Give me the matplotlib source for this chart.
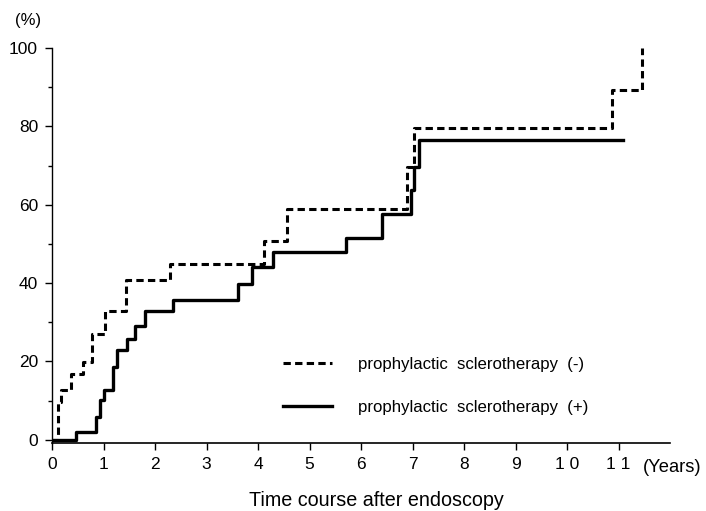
import matplotlib
matplotlib.use("Agg")
import matplotlib.pyplot as plt
from matplotlib.ticker import MultipleLocator

plt.rcParams['font.family'] = ['Liberation Sans', 'DejaVu Sans']

# Data (years, cumulative %)
neg_time = [0, 0.12, 0.18, 0.36, 0.61, 0.77, 1.02, 1.44, 2.29, 4.12, 4.57, 6.89, 7.03, 10.87, 11.46]
neg_value = [0, 9.7, 12.8, 16.8, 19.8, 27.0, 33.0, 40.8, 44.8, 50.8, 58.9, 69.7, 79.6, 89.3, 100.0]

pos_time = [0, 0.47, 0.85, 0.93, 1.01, 1.19, 1.26, 1.45, 1.61, 1.81, 2.35, 3.62, 3.89, 4.29,
            5.71, 6.40, 6.98, 7.03, 7.13, 11.08]
pos_value = [0, 1.9, 5.9, 10.2, 12.8, 18.7, 23.0, 25.8, 29.0, 32.9, 35.8, 39.8, 44.0, 47.9,
             51.4, 57.7, 63.8, 69.7, 76.5, 76.5]

labels = ["prophylactic  sclerotherapy  (-)", "prophylactic  sclerotherapy  (+)"]
x_ticks = list(range(12))
x_tick_labels = ["0", "1", "2", "3", "4", "5", "6", "7", "8", "9", "1 0", "1 1"]
y_ticks = [0, 20, 40, 60, 80, 100]

W, H = 706, 511
fig = plt.figure(figsize=(W / 100, H / 100), dpi=100)
left, right, top, bottom = 52, 670, 48, 443
ax = fig.add_axes([left / W, 1 - bottom / H, (right - left) / W, (bottom - top) / H])

ax.step(neg_time, neg_value, where='post', color='black', lw=2.2,
        linestyle=(0, (2.4, 1.4)), label=labels[0])
ax.step(pos_time, pos_value, where='post', color='black', lw=2.4,
        linestyle='-', label=labels[1])

ax.set_xlim(0, 12)
ax.set_ylim(-0.8, 100)
ax.spines['top'].set_visible(False)
ax.spines['right'].set_visible(False)
ax.spines['left'].set_linewidth(1.0)
ax.spines['bottom'].set_linewidth(1.2)

ax.set_xticks(x_ticks)
ax.set_xticklabels(x_tick_labels)
ax.set_yticks(y_ticks)
ax.yaxis.set_minor_locator(MultipleLocator(10))
ax.tick_params(axis='both', which='major', labelsize=12.5, length=5, width=1, direction='out', pad=5)
ax.tick_params(axis='y', which='minor', length=3, width=1)

fig.text(643 / W, 1 - 468 / H, "(Years)", fontsize=13.2, ha='left', va='center')
fig.text(28 / W, 1 - 20 / H, "(%)", fontsize=12, ha='center', va='center')
fig.text(376 / W, 1 - 500 / H, "Time course after endoscopy", fontsize=14.2, ha='center', va='center')

fs = 12.1
px = fs * 100 / 72
leg = ax.legend(loc='upper left', bbox_to_anchor=(283 / W, 1 - (365 - px / 2) / H),
                bbox_transform=fig.transFigure, frameon=False, fontsize=fs,
                handlelength=49 / px, handletextpad=26 / px, labelspacing=(45 - px) / px,
                borderpad=0, borderaxespad=0)

fig.savefig("out.png", dpi=100)
